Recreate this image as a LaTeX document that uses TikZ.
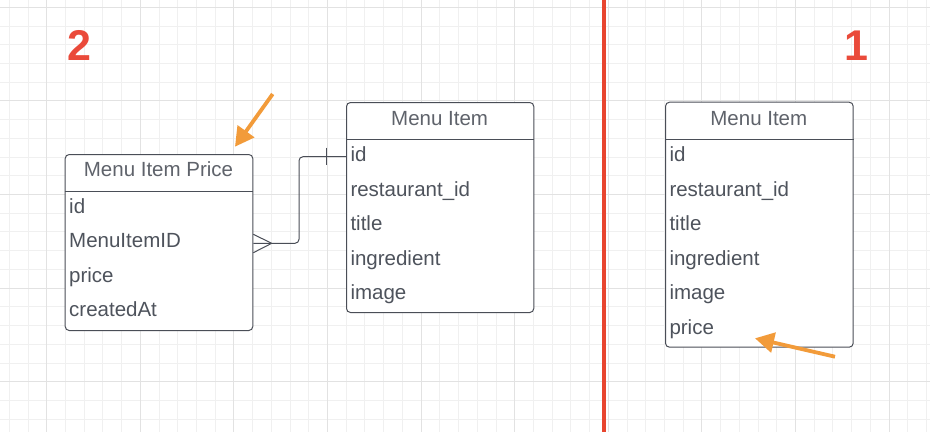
\documentclass[tikz,border=0pt]{standalone}
\usepackage{fontspec}
\setmainfont{Liberation Sans}
\usepackage[HTML]{xcolor}
\usetikzlibrary{positioning, arrows.meta}

\definecolor{gridminor}{HTML}{F0F0F0}
\definecolor{gridmajor}{HTML}{E2E2E2}
\definecolor{boxline}{HTML}{4A4E57}
\definecolor{rowtext}{HTML}{4E535C}
\definecolor{headtext}{HTML}{5F636B}
\definecolor{markred}{HTML}{EA4A3A}
\definecolor{divred}{HTML}{E8452F}
\definecolor{hintorange}{HTML}{F29B3A}

\begin{document}
\begin{tikzpicture}[x=1pt,y=-1pt,
  entity/.style={draw=boxline, line width=1pt, fill=white, rounded corners=4pt, inner sep=0pt, anchor=north west},
  headline/.style={boxline, line width=1pt},
  head/.style={text=headtext, font=\fontsize{20.5}{24}\selectfont, anchor=base, inner sep=0pt},
  field/.style={text=rowtext, font=\fontsize{20.5}{24}\selectfont, anchor=base west, inner sep=0pt},
  num/.style={text=markred, font=\fontsize{43}{48}\selectfont\bfseries, anchor=base, inner sep=0pt},
  hint/.style={hintorange, line width=3.8pt, -{Triangle[length=19pt,width=20pt]}},
  rel/.style={boxline, line width=1pt}]

\useasboundingbox (0,0) rectangle (930,432);
\fill[white] (0,0) rectangle (930,432);

% grid
\foreach \k in {0,...,49} {
  \pgfmathsetmacro{\gx}{9.26+18.72*\k}
  \draw[gridminor, line width=0.9pt] (\gx,0) -- (\gx,432);
}
\foreach \k in {0,...,22} {
  \pgfmathsetmacro{\gy}{7.3+18.72*\k}
  \draw[gridminor, line width=0.9pt] (0,\gy) -- (930,\gy);
}
\foreach \k in {2,7,...,47} {
  \pgfmathsetmacro{\gx}{9.26+18.72*\k}
  \draw[gridmajor, line width=0.9pt] (\gx,0) -- (\gx,432);
}
\foreach \k in {0,5,...,20} {
  \pgfmathsetmacro{\gy}{7.3+18.72*\k}
  \draw[gridmajor, line width=0.9pt] (0,\gy) -- (930,\gy);
}

% divider and step numbers
\draw[divred, line width=4pt] (603.7,0) -- (603.7,432);
\node[num] (numTwo) at (79.2,60) {2};
\node[num] (numOne) at (856,60) {1};

% entity boxes
\node[entity, minimum width=187.6pt, minimum height=176pt] (priceBox) at (64.7,154) {};
\node[entity, minimum width=187.3pt, minimum height=210pt] (itemBox) at (346,102) {};
\node[entity, minimum width=187.7pt, minimum height=245pt] (newBox) at (665,101.7) {};

\draw[headline] (priceBox.west |- 0,191.7) -- (priceBox.east |- 0,191.7);
\draw[headline] (itemBox.west |- 0,139.3) -- (itemBox.east |- 0,139.3);
\draw[headline] (newBox.west |- 0,139.3) -- (newBox.east |- 0,139.3);

\node[head] (priceTitle) at (158.5,176.7) {Menu Item Price};
\node[head] (itemTitle) at (439.6,125) {Menu Item};
\node[head] (newTitle) at (758.8,125) {Menu Item};

\foreach \f/\n [count=\i] in {id/pId, MenuItemID/pMenuId, price/pPrice, createdAt/pCreated}
  \node[field] (\n) at (69, {213.3+34.5*(\i-1)}) {\f};
\foreach \f/\n [count=\i] in {id/iId, restaurant\_id/iRest, title/iTitle, ingredient/iIngr, image/iImage}
  \node[field] (\n) at (350.3, {161.7+34.5*(\i-1)}) {\f};
\foreach \f/\n [count=\i] in {id/nId, restaurant\_id/nRest, title/nTitle, ingredient/nIngr, image/nImage, price/nPrice}
  \node[field] (\n) at (669.3, {161.7+34.5*(\i-1)}) {\f};

% relation: many prices to one item
\coordinate (fkFoot) at (priceBox.east |- 0,243.3);
\coordinate (fkTip) at (271.7,243.3);
\coordinate (pkEnd) at (itemBox.west |- 0,156.7);
\draw[rel, rounded corners=4pt] (fkFoot) -- (299,243.3) -- (299,156.7) -- (pkEnd);
\draw[rel] (fkTip) -- (priceBox.east |- 0,234.3) (fkTip) -- (priceBox.east |- 0,252.7);
\draw[rel] (326.7,147.7) -- (326.7,165);

% hints
\coordinate (hintTopTail) at (272.7,94);
\coordinate (hintTopTip) at (235,146.7);
\coordinate (hintLowTail) at (835,356.7);
\coordinate (hintLowTip) at (755,338.3);
\draw[hint] (hintTopTail) -- (hintTopTip);
\draw[hint] (hintLowTail) -- (hintLowTip);
\end{tikzpicture}
\end{document}
